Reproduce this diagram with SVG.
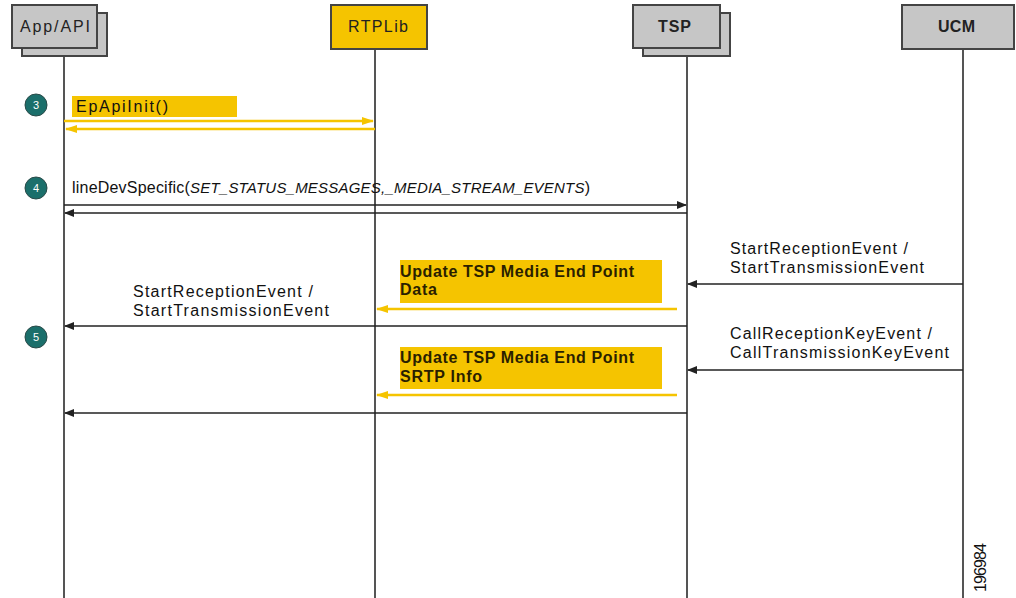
<svg xmlns="http://www.w3.org/2000/svg" width="1016" height="598" viewBox="0 0 1016 598">
<style>
.box{fill:#c6c6c6;stroke:#444;stroke-width:2}
.ybox{fill:#f5c400;stroke:#444;stroke-width:2}
.life{stroke:#555;stroke-width:2;fill:none}
.msg{stroke:#222;stroke-width:1.6;fill:none}
.ymsg{stroke:#f5c400;stroke-width:2.5;fill:none}
.t{font-family:"Liberation Sans",Arial,sans-serif;font-size:16px;fill:#111}
.b{font-family:"Liberation Sans",Arial,sans-serif;font-size:16px;fill:#2a1f00;font-weight:bold}
.hdr{font-family:"Liberation Sans",Arial,sans-serif;font-size:16px;fill:#222}
.note{fill:#f5c400}
.step{fill:#1b6f6b;stroke:#2a4a48;stroke-width:1}
.stept{font-family:"Liberation Sans",Arial,sans-serif;font-size:11px;fill:#fff;text-anchor:middle}
</style>
<defs>
<marker id="ah" markerWidth="10" markerHeight="8" refX="9" refY="4" orient="auto" markerUnits="userSpaceOnUse"><path d="M0,0 L10,4 L0,8 z" fill="#222"/></marker>
<marker id="yah" markerWidth="12" markerHeight="8" refX="11" refY="4" orient="auto" markerUnits="userSpaceOnUse"><path d="M0,0 L12,4 L0,8 z" fill="#f5c400"/></marker>
</defs>
<rect width="1016" height="598" fill="#fff"/>
<g id="lifelines">
<line class="life" x1="64" y1="57" x2="64" y2="598"/>
<line class="life" x1="375" y1="50" x2="375" y2="598"/>
<line class="life" x1="687" y1="57" x2="687" y2="598"/>
<line class="life" x1="963" y1="50" x2="963" y2="598"/>
</g>
<g id="app">
<rect class="box" x="22" y="13" width="85" height="43"/>
<rect class="box" x="12" y="5" width="85" height="43"/>
<text class="hdr" x="20" y="32" textLength="70" lengthAdjust="spacing">App/API</text>
</g>
<g id="rtplib">
<rect class="ybox" x="331" y="5" width="96" height="44"/>
<text class="hdr" x="348" y="32" textLength="60" lengthAdjust="spacing">RTPLib</text>
</g>
<g id="tsp">
<rect class="box" x="643" y="13" width="87" height="43"/>
<rect class="box" x="633" y="5" width="87" height="43"/>
<text class="hdr" x="658" y="32" font-weight="bold" textLength="33" lengthAdjust="spacing">TSP</text>
</g>
<g id="ucm">
<rect class="box" x="902" y="5" width="112" height="44"/>
<text class="hdr" x="938" y="32" font-weight="bold" textLength="37" lengthAdjust="spacing">UCM</text>
</g>
<g id="steps">
<circle class="step" cx="36" cy="105" r="11"/><text class="stept" x="36" y="109">3</text>
<circle class="step" cx="36" cy="188" r="11"/><text class="stept" x="36" y="192">4</text>
<circle class="step" cx="36" cy="337" r="11"/><text class="stept" x="36" y="341">5</text>
</g>
<g id="notes">
<rect class="note" x="72" y="96" width="165" height="21"/>
<text class="t" x="76" y="112" textLength="92" lengthAdjust="spacing">EpApiInit()</text>
<rect class="note" x="400" y="260" width="262" height="43"/>
<text class="b" x="400" y="277" textLength="234" lengthAdjust="spacing">Update TSP Media End Point</text>
<text class="b" x="400" y="295" textLength="37" lengthAdjust="spacing">Data</text>
<rect class="note" x="400" y="347" width="262" height="42"/>
<text class="b" x="400" y="363" textLength="234" lengthAdjust="spacing">Update TSP Media End Point</text>
<text class="b" x="400" y="382" textLength="82" lengthAdjust="spacing">SRTP Info</text>
</g>
<g id="connectors">
<line class="ymsg" x1="64" y1="121" x2="373" y2="121" marker-end="url(#yah)"/>
<line class="ymsg" x1="375" y1="129" x2="66" y2="129" marker-end="url(#yah)"/>
<line class="msg" x1="64" y1="205" x2="686" y2="205" marker-end="url(#ah)"/>
<line class="msg" x1="687" y1="213" x2="65" y2="213" marker-end="url(#ah)"/>
<line class="msg" x1="963" y1="284" x2="688" y2="284" marker-end="url(#ah)"/>
<line class="ymsg" x1="677" y1="309" x2="377" y2="309" marker-end="url(#yah)"/>
<line class="msg" x1="687" y1="326" x2="65" y2="326" marker-end="url(#ah)"/>
<line class="msg" x1="963" y1="370" x2="688" y2="370" marker-end="url(#ah)"/>
<line class="ymsg" x1="677" y1="395" x2="377" y2="395" marker-end="url(#yah)"/>
<line class="msg" x1="687" y1="413" x2="65" y2="413" marker-end="url(#ah)"/>
</g>
<g id="labels">
<text class="t" x="72" y="193" textLength="518" lengthAdjust="spacing">lineDevSpecific(<tspan font-style="italic" font-size="15">SET_STATUS_MESSAGES,_MEDIA_STREAM_EVENTS</tspan>)</text>
<text class="t" x="730" y="254" textLength="178" lengthAdjust="spacing">StartReceptionEvent /</text>
<text class="t" x="730" y="273" textLength="194" lengthAdjust="spacing">StartTransmissionEvent</text>
<text class="t" x="133" y="297" textLength="180" lengthAdjust="spacing">StartReceptionEvent /</text>
<text class="t" x="133" y="316" textLength="196" lengthAdjust="spacing">StartTransmissionEvent</text>
<text class="t" x="730" y="339" textLength="202" lengthAdjust="spacing">CallReceptionKeyEvent /</text>
<text class="t" x="730" y="358" textLength="219" lengthAdjust="spacing">CallTransmissionKeyEvent</text>
<text class="t" x="0" y="0" transform="translate(986,592) rotate(-90)" textLength="49" lengthAdjust="spacing">196984</text>
</g>
</svg>
